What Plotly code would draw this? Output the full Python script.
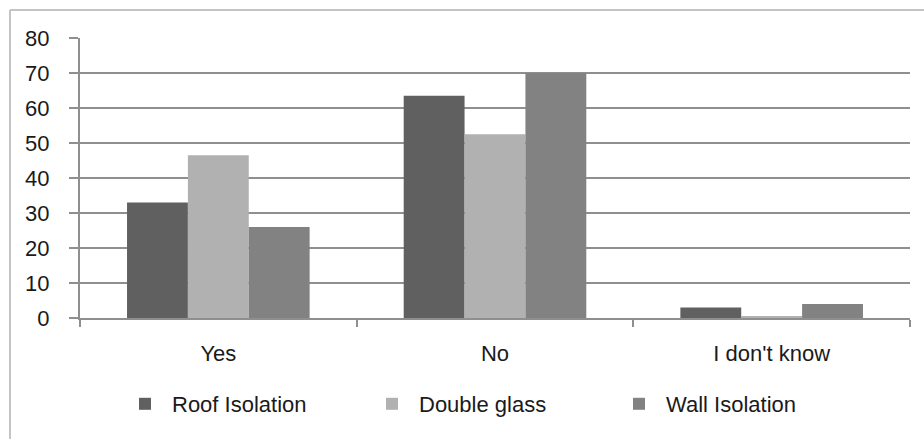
import plotly.graph_objects as go

# Survey answers per insulation measure (percent of respondents)
categories = ["Yes", "No", "I don't know"]
roof_isolation = [33, 63.5, 3]
double_glass = [46.5, 52.5, 0.6]
wall_isolation = [26, 70, 4]

series = [
    ("Roof Isolation", roof_isolation, "#606060"),
    ("Double glass", double_glass, "#b1b1b1"),
    ("Wall Isolation", wall_isolation, "#828282"),
]

W, H = 924, 439
L, R, T, B = 80, 14, 38, 121
pw, ph = W - L - R, H - T - B

fig = go.Figure()
for name, vals, color in series:
    fig.add_trace(go.Bar(x=categories, y=vals, name=name,
                         marker=dict(color=color, line=dict(width=0))))

family = "Liberation Sans, Arial, sans-serif"
font = dict(family=family, size=22, color="#1a1a1a")
grid = "#8f8f8f"

fig.update_layout(
    width=W, height=H,
    margin=dict(l=L, r=R, t=T, b=B),
    paper_bgcolor="white", plot_bgcolor="white",
    barmode="group", bargap=0.34, bargroupgap=0,
    font=font,
    showlegend=True,
    legend=dict(orientation="h", x=(118 - L) / pw, xanchor="left",
                y=(318 - 404) / ph, yanchor="middle",
                entrywidth=188, itemwidth=44, font=font, traceorder="normal",
                bgcolor="rgba(0,0,0,0)"),
    xaxis=dict(showline=True, linecolor=grid, linewidth=2,
               ticks="outside", ticklen=7, tickcolor=grid, tickwidth=2,
               tickson="boundaries", showgrid=False,
               ticklabelstandoff=15, tickfont=font),
    yaxis=dict(range=[0, 80], dtick=10, showgrid=True, gridcolor=grid,
               gridwidth=2, showline=True, linecolor=grid, linewidth=2,
               ticks="outside", ticklen=9, tickcolor=grid, tickwidth=2,
               zeroline=False, ticklabelstandoff=15,
               tickfont=dict(family=family, size=22, color="#1a1a1a")),
)

# Light frame along the top and left edges of the chart
frame = "#c4c4c4"
fig.add_shape(type="line", xref="paper", yref="paper",
              x0=(10 - L) / pw, x1=(W - L) / pw, y0=(318 - 10) / ph, y1=(318 - 10) / ph,
              line=dict(color=frame, width=2))
fig.add_shape(type="line", xref="paper", yref="paper",
              x0=(10 - L) / pw, x1=(10 - L) / pw, y0=(318 - 10) / ph, y1=(318 - H) / ph,
              line=dict(color=frame, width=2))

fig.write_html("out.html")
